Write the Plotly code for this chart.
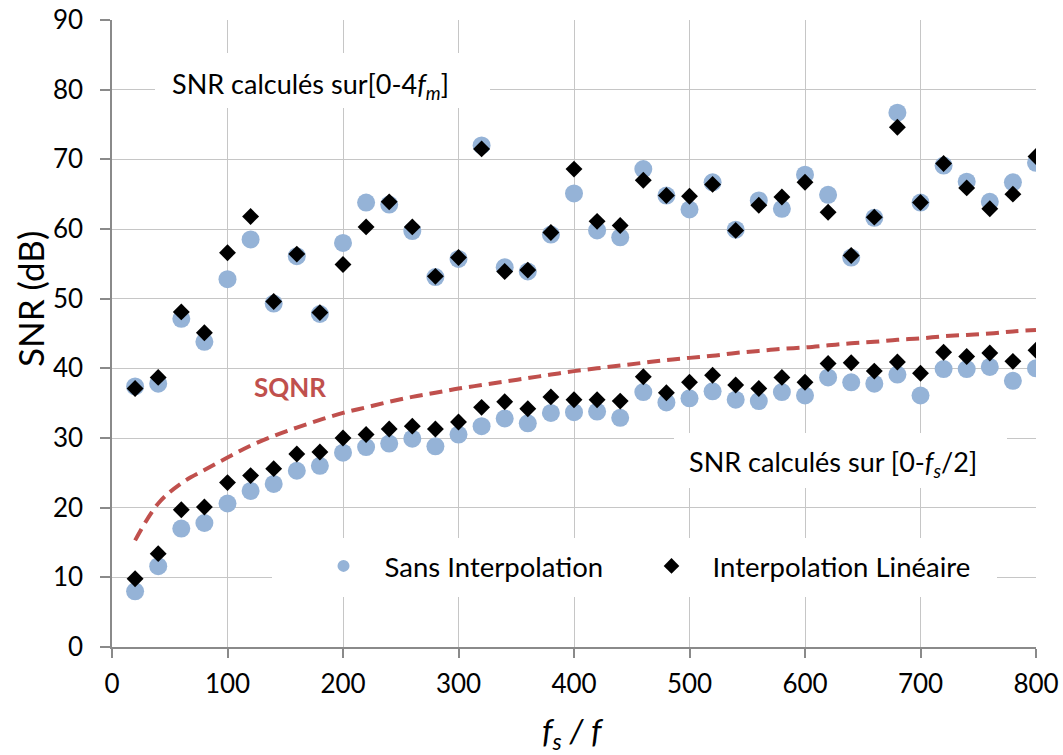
import plotly.graph_objects as go

# ---------------- data ----------------
fs_ratio = [20, 40, 60, 80, 100, 120, 140, 160, 180, 200,
            220, 240, 260, 280, 300, 320, 340, 360, 380, 400,
            420, 440, 460, 480, 500, 520, 540, 560, 580, 600,
            620, 640, 660, 680, 700, 720, 740, 760, 780, 800]

# SNR computed on [0-4fm]
snr_4fm_sans = [37.4, 37.8, 47.1, 43.8, 52.8, 58.5, 49.3, 56.1, 47.8, 58.0,
                63.8, 63.5, 59.7, 53.1, 55.7, 72.0, 54.5, 53.9, 59.2, 65.1,
                59.8, 58.8, 68.6, 64.8, 62.8, 66.7, 59.9, 64.1, 62.9, 67.8,
                64.9, 55.9, 61.6, 76.7, 63.8, 69.1, 66.8, 63.9, 66.7, 69.5]
snr_4fm_lin = [37.1, 38.7, 48.1, 45.1, 56.6, 61.8, 49.6, 56.4, 48.0, 54.9,
               60.3, 63.9, 60.3, 53.2, 55.9, 71.5, 53.9, 54.1, 59.5, 68.6,
               61.1, 60.5, 67.0, 64.8, 64.7, 66.4, 59.8, 63.4, 64.6, 66.7,
               62.4, 56.2, 61.7, 74.6, 63.8, 69.4, 65.9, 62.9, 65.0, 70.4]

# SNR computed on [0-fs/2]
snr_fs2_sans = [8.0, 11.6, 17.0, 17.8, 20.6, 22.4, 23.4, 25.3, 26.0, 27.9,
                28.7, 29.2, 29.9, 28.8, 30.5, 31.7, 32.8, 32.1, 33.6, 33.7,
                33.8, 32.9, 36.6, 35.1, 35.7, 36.7, 35.5, 35.3, 36.6, 36.1,
                38.7, 38.0, 37.8, 39.1, 36.1, 39.9, 39.9, 40.2, 38.2, 40.0]
snr_fs2_lin = [9.8, 13.4, 19.7, 20.1, 23.6, 24.6, 25.6, 27.7, 28.0, 30.0,
               30.5, 31.3, 31.7, 31.3, 32.3, 34.4, 35.2, 34.2, 35.9, 35.5,
               35.5, 35.3, 38.8, 36.5, 38.0, 39.0, 37.6, 37.1, 38.7, 38.0,
               40.7, 40.8, 39.6, 40.9, 39.3, 42.3, 41.7, 42.2, 41.0, 42.6]

# SQNR curve
sqnr = [15.3, 20.6, 23.5, 25.4, 27.2, 28.9, 30.3, 31.5, 32.6, 33.6,
        34.4, 35.2, 35.9, 36.5, 37.1, 37.6, 38.1, 38.6, 39.1, 39.6,
        40.0, 40.4, 40.8, 41.2, 41.5, 41.8, 42.2, 42.5, 42.8, 43.0,
        43.3, 43.6, 43.8, 44.1, 44.3, 44.6, 44.8, 45.0, 45.3, 45.5]

x_ticks = [0, 100, 200, 300, 400, 500, 600, 700, 800]
y_ticks = [0, 10, 20, 30, 40, 50, 60, 70, 80, 90]

label_sans = "Sans Interpolation"
label_lin = "Interpolation Linéaire"

# ---------------- styling ----------------
FONT = "Lato"
BLUE = "#95B3D7"
BLACK = "#000000"
RED = "#C0504D"
GRID = "#C6C6C6"
AXIS = "#8A8A8A"

W, H = 1063, 755
# plot area in page pixels
PX_L, PX_R, PX_T, PX_B = 112, 1036, 20, 647
L, T, R, B = PX_L, PX_T, W - PX_R, H - PX_B
PW, PH = PX_R - PX_L, PX_B - PX_T

def px2x(px):
    return (px - PX_L) / PW * 800
def px2y(py):
    return (PX_B - py) / PH * 90
def px2px(px):
    return (px - PX_L) / PW
def py2py(py):
    return (PX_B - py) / PH

fig = go.Figure()

fig.add_trace(go.Scatter(
    x=fs_ratio, y=sqnr, mode="lines",
    line=dict(color=RED, width=4, dash="13px,7px", shape="spline"),
    showlegend=False, hoverinfo="skip"))

fig.add_trace(go.Scatter(
    x=fs_ratio, y=snr_4fm_sans, mode="markers",
    marker=dict(symbol="circle", size=18, color=BLUE),
    name=label_sans, legendgroup="sans", showlegend=False))
fig.add_trace(go.Scatter(
    x=fs_ratio, y=snr_fs2_sans, mode="markers",
    marker=dict(symbol="circle", size=18, color=BLUE),
    name="\u00a0\u00a0\u00a0" + label_sans, legendgroup="sans", showlegend=True))
fig.add_trace(go.Scatter(
    x=fs_ratio, y=snr_4fm_lin, mode="markers",
    marker=dict(symbol="diamond", size=13, color=BLACK),
    name=label_lin, legendgroup="lin", showlegend=False))
fig.add_trace(go.Scatter(
    x=fs_ratio, y=snr_fs2_lin, mode="markers",
    marker=dict(symbol="diamond", size=13, color=BLACK),
    name="\u00a0\u00a0\u00a0" + label_lin, legendgroup="lin", showlegend=True))

# white boxes hiding the gridlines behind texts / legend (page px)
boxes = [
    (155, 490, 53, 108),
    (674, 1007, 433, 488),
    (272, 997, 538, 597),
]
for (x0, x1, y0, y1) in boxes:
    fig.add_shape(type="rect", xref="x", yref="y",
                  x0=px2x(x0), x1=px2x(x1), y0=px2y(y1), y1=px2y(y0),
                  fillcolor="white", line=dict(width=0), layer="above")

fig.add_annotation(x=px2x(310), y=px2y(85), xref="x", yref="y",
                   text="SNR calculés sur[0-4<i>f<sub>m</sub></i>]",
                   showarrow=False, font=dict(family=FONT, size=27, color="black"))
fig.add_annotation(x=px2x(833), y=px2y(463), xref="x", yref="y",
                   text="SNR calculés sur [0-<i>f<sub>s</sub></i>/2]",
                   showarrow=False, font=dict(family=FONT, size=27, color="black"))
fig.add_annotation(x=px2x(290), y=px2y(387), xref="x", yref="y",
                   text="<b>SQNR</b>",
                   showarrow=False, font=dict(family=FONT, size=26, color=RED))
# axis titles
fig.add_annotation(x=px2px(30), y=py2py(299), xref="paper", yref="paper",
                   xanchor="center", yanchor="middle",
                   text="SNR (dB)", textangle=-90,
                   showarrow=False, font=dict(family=FONT, size=35, color="black"))
fig.add_annotation(x=px2px(573), y=py2py(733), xref="paper", yref="paper",
                   xanchor="center", yanchor="middle",
                   text="<i>f<sub>s</sub> / f</i>",
                   showarrow=False, font=dict(family=FONT, size=33, color="black"))

fig.update_layout(
    width=W, height=H,
    margin=dict(l=L, r=R, t=T, b=B, autoexpand=False),
    paper_bgcolor="white", plot_bgcolor="white",
    font=dict(family=FONT, size=26, color="black"),
    showlegend=True,
    legend=dict(orientation="h", x=px2px(323.5), xanchor="left", y=py2py(566), yanchor="middle",
                bgcolor="rgba(0,0,0,0)", font=dict(family=FONT, size=27.5, color="black"),
                itemsizing="constant", entrywidth=283, entrywidthmode="pixels"),
    xaxis=dict(range=[0, 800], tickvals=x_ticks, ticktext=[str(v) for v in x_ticks],
               showgrid=True, gridcolor=GRID, gridwidth=1.3,
               showline=True, linecolor=AXIS, linewidth=1.5,
               ticks="outside", ticklen=9, tickcolor=AXIS, tickwidth=1.5,
               zeroline=False, ticklabelstandoff=4, automargin=False,
               ticklabeloverflow="allow",
               tickfont=dict(family=FONT, size=26)),
    yaxis=dict(range=[0, 90], tickvals=y_ticks, ticktext=[str(v) for v in y_ticks],
               showgrid=True, gridcolor=GRID, gridwidth=1.3,
               showline=True, linecolor=AXIS, linewidth=1.5,
               ticks="outside", ticklen=10, tickcolor=AXIS, tickwidth=1.5,
               zeroline=False, ticklabelstandoff=12, automargin=False,
               ticklabeloverflow="allow",
               tickfont=dict(family=FONT, size=26)),
)

fig.write_html(
    "out.html",
    config={"displayModeBar": False},
    post_script="document.body.style.margin='0';document.body.style.overflow='hidden';",
)
